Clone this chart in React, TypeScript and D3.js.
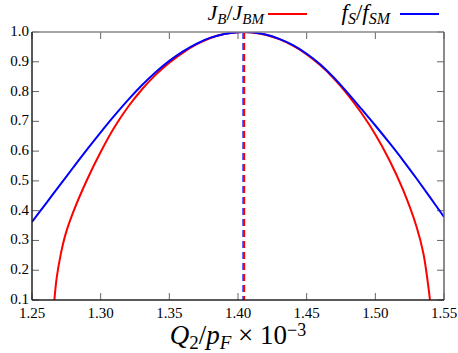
import React from 'react';
import * as d3 from 'd3';

// J_B / J_BM (red)
const jbX = [1.2663, 1.268, 1.271, 1.2745, 1.28, 1.29, 1.3, 1.31, 1.32, 1.33, 1.34, 1.35, 1.36, 1.37, 1.38, 1.39, 1.4, 1.404,
  1.41, 1.42, 1.43, 1.44, 1.45, 1.46, 1.47, 1.48, 1.49, 1.5, 1.51, 1.52, 1.53, 1.535, 1.5398];
const jbY = [0.1, 0.175, 0.255, 0.322, 0.395, 0.503, 0.597, 0.68, 0.749, 0.807, 0.856, 0.897, 0.931, 0.959, 0.98, 0.993, 0.9994, 1.0,
  0.9987, 0.991, 0.976, 0.954, 0.925, 0.888, 0.843, 0.789, 0.727, 0.656, 0.572, 0.472, 0.346, 0.256, 0.1];

// f_S / f_SM (blue)
const fsX = [1.25, 1.26, 1.27, 1.28, 1.29, 1.3, 1.31, 1.32, 1.33, 1.34, 1.35, 1.36, 1.37, 1.38, 1.39, 1.4, 1.404,
  1.41, 1.42, 1.43, 1.44, 1.45, 1.46, 1.47, 1.48, 1.49, 1.5, 1.51, 1.52, 1.53, 1.54, 1.55];
const fsY = [0.362, 0.423, 0.484, 0.545, 0.605, 0.663, 0.719, 0.772, 0.821, 0.865, 0.903, 0.935, 0.961, 0.981, 0.9935, 0.9995, 1.0,
  0.9988, 0.9915, 0.977, 0.956, 0.927, 0.891, 0.846, 0.795, 0.741, 0.686, 0.629, 0.57, 0.508, 0.444, 0.379];

const jbPeak = 1.4045;
const fsPeak = 1.4037;

const xTicks = [1.25, 1.3, 1.35, 1.4, 1.45, 1.5, 1.55];
const yTicks = [0.1, 0.2, 0.3, 0.4, 0.5, 0.6, 0.7, 0.8, 0.9, 1.0];

const width = 458;
const height = 353;
const margin = { left: 32, right: 14, top: 32, bottom: 53 };
const serif = "'Liberation Serif', 'DejaVu Serif', serif";

export default function App() {
  const chartWidth = width - margin.left - margin.right;
  const chartHeight = height - margin.top - margin.bottom;
  const xScale = d3.scaleLinear().domain([1.25, 1.55]).range([0, chartWidth]);
  const yScale = d3.scaleLinear().domain([0.1, 1.0]).range([chartHeight, 0]);

  const line = d3.line<[number, number]>()
    .x(d => xScale(d[0]))
    .y(d => yScale(d[1]))
    .curve(d3.curveCatmullRom.alpha(0.5));

  const jbPath = line(jbX.map((x, i) => [x, jbY[i]] as [number, number])) || '';
  const fsPath = line(fsX.map((x, i) => [x, fsY[i]] as [number, number])) || '';

  const txt = { fontFamily: serif };

  return (
    <svg width={width} height={height} style={{ position: 'absolute', left: 0, top: 0, background: '#fff' }}>
      <defs>
        <clipPath id="plotclip">
          <rect x={0} y={0} width={chartWidth} height={chartHeight} />
        </clipPath>
      </defs>
      <g transform={`translate(${margin.left},${margin.top})`}>
        {/* ticks */}
        {xTicks.map(t => (
          <g key={'x' + t}>
            <line x1={xScale(t)} x2={xScale(t)} y1={chartHeight} y2={chartHeight - 7} stroke="#666" strokeWidth={1} />
            <line x1={xScale(t)} x2={xScale(t)} y1={0} y2={7} stroke="#666" strokeWidth={1} />
            <text x={xScale(t)} y={chartHeight + 18} textAnchor="middle" style={{ ...txt, fontSize: 15 }}>{t.toFixed(2)}</text>
          </g>
        ))}
        {yTicks.map(t => (
          <g key={'y' + t}>
            <line x1={0} x2={7} y1={yScale(t)} y2={yScale(t)} stroke="#666" strokeWidth={1} />
            <line x1={chartWidth} x2={chartWidth - 7} y1={yScale(t)} y2={yScale(t)} stroke="#666" strokeWidth={1} />
            <text x={-3} y={yScale(t) + 4} textAnchor="end" style={{ ...txt, fontSize: 15 }}>{t.toFixed(1)}</text>
          </g>
        ))}

        <g clipPath="url(#plotclip)">
          <path d={jbPath} fill="none" stroke="#ff0000" strokeWidth={2} />
          <path d={fsPath} fill="none" stroke="#0000ff" strokeWidth={2} />
          <line x1={xScale(jbPeak)} x2={xScale(jbPeak)} y1={0} y2={chartHeight} stroke="#ff0000" strokeWidth={2} strokeDasharray="7,4" />
          <line x1={xScale(fsPeak)} x2={xScale(fsPeak)} y1={0} y2={chartHeight} stroke="#3333ff" strokeWidth={1.6} strokeDasharray="7,4" />
        </g>

        {/* frame */}
        <line x1={0} x2={chartWidth} y1={0} y2={0} stroke="#888" strokeWidth={1.5} />
        <line x1={chartWidth} x2={chartWidth} y1={0} y2={chartHeight} stroke="#666" strokeWidth={1.5} />
        <line x1={0} x2={0} y1={0} y2={chartHeight} stroke="#222" strokeWidth={1.5} />
        <line x1={0} x2={chartWidth} y1={chartHeight} y2={chartHeight} stroke="#222" strokeWidth={1.5} />

        {/* x label */}
        <text x={chartWidth / 2} y={chartHeight + 44} textAnchor="middle" style={{ ...txt, fontSize: 27 }}>
          <tspan fontStyle="italic">Q</tspan>
          <tspan fontSize={19} dy={5}>2</tspan>
          <tspan dy={-5}>/</tspan>
          <tspan fontStyle="italic">p</tspan>
          <tspan fontSize={19} fontStyle="italic" dy={5}>F</tspan>
          <tspan dy={-5}> × 10</tspan>
          <tspan fontSize={18} dy={-8}>−3</tspan>
        </text>
      </g>

      {/* legend */}
      <text x={264} y={20} textAnchor="end" style={{ ...txt, fontSize: 22 }}>
        <tspan fontStyle="italic">J</tspan>
        <tspan fontStyle="italic" fontSize={15} dy={4}>B</tspan>
        <tspan dy={-4}>/</tspan>
        <tspan fontStyle="italic">J</tspan>
        <tspan fontStyle="italic" fontSize={15} dy={4}>BM</tspan>
      </text>
      <line x1={268} x2={307} y1={14} y2={14} stroke="#ff0000" strokeWidth={2} />
      <text x={390} y={20} textAnchor="end" style={{ ...txt, fontSize: 23 }}>
        <tspan fontStyle="italic">f</tspan>
        <tspan fontStyle="italic" fontSize={16} dy={4}>S</tspan>
        <tspan dy={-4}>/</tspan>
        <tspan fontStyle="italic">f</tspan>
        <tspan fontStyle="italic" fontSize={16} dy={4}>SM</tspan>
      </text>
      <line x1={400} x2={439} y1={14} y2={14} stroke="#0000ff" strokeWidth={2} />
    </svg>
  );
}
